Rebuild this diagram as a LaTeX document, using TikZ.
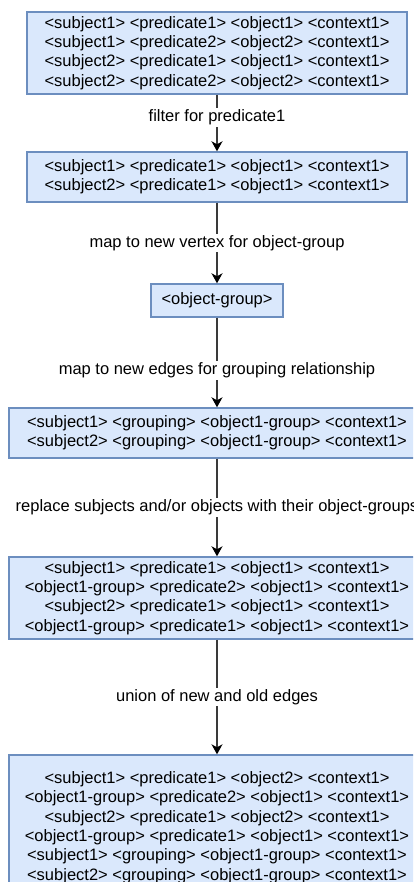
\documentclass[tikz,border=0pt]{standalone}
\usepackage{fontspec}
\setmainfont{Liberation Sans}
\usetikzlibrary{arrows.meta}
\definecolor{boxfill}{HTML}{DAE8FC}
\definecolor{boxline}{HTML}{6C8EBF}
\definecolor{flowline}{HTML}{3A3A3A}
\tikzset{
  stagebox/.style={rectangle, draw=boxline, fill=boxfill, line width=1.4pt,
    inner sep=0pt, align=center, text=black,
    font=\fontsize{16.5pt}{19.4pt}\selectfont},
  flow/.style={draw=flowline, line width=1.5pt,
    -{Stealth[length=10pt, width=11pt, inset=3pt, fill=black, color=black]}},
  steplabel/.style={fill=white, inner sep=1.5pt, text=black,
    font=\fontsize{16.5pt}{19.4pt}\selectfont}
}
\begin{document}
\begin{tikzpicture}[x=1pt, y=1pt]
  \useasboundingbox (0,0) rectangle (413,-882);
  \begin{scope}
  \clip (0,0) rectangle (413,-882);

  \node[stagebox, minimum width=380pt, minimum height=82pt] (quads) at (217,-53)
    {<subject1> <predicate1> <object1> <context1>\\
     <subject1> <predicate2> <object2> <context1>\\
     <subject2> <predicate1> <object1> <context1>\\
     <subject2> <predicate2> <object2> <context1>};

  \node[stagebox, minimum width=380pt, minimum height=50pt] (filtered) at (217,-177)
    {<subject1> <predicate1> <object1> <context1>\\
     <subject2> <predicate1> <object1> <context1>};

  \node[stagebox, minimum width=132pt, minimum height=33pt] (group) at (217,-300.5)
    {<object-group>};

  \node[stagebox, minimum width=416pt, minimum height=50pt] (grouping) at (217,-433)
    {<subject1> <grouping> <object1-group> <context1>\\
     <subject2> <grouping> <object1-group> <context1>};

  \node[stagebox, minimum width=416pt, minimum height=82pt] (replaced) at (217,-598)
    {<subject1> <predicate1> <object1> <context1>\\
     <object1-group> <predicate2> <object1> <context1>\\
     <subject2> <predicate1> <object1> <context1>\\
     <object1-group> <predicate1> <object1> <context1>};

  \node[stagebox, minimum width=416pt, minimum height=145pt] (union) at (217,-827.5)
    {<subject1> <predicate1> <object2> <context1>\\
     <object1-group> <predicate2> <object1> <context1>\\
     <subject2> <predicate1> <object2> <context1>\\
     <object1-group> <predicate1> <object1> <context1>\\
     <subject1> <grouping> <object1-group> <context1>\\
     <subject2> <grouping> <object1-group> <context1>};

  \draw[flow] (quads) -- node[steplabel, pos=0.40] {filter for predicate1} (filtered);
  \draw[flow] (filtered) -- node[steplabel, pos=0.50] {map to new vertex for object-group} (group);
  \draw[flow] (group) -- node[steplabel, pos=0.59] {map to new edges for grouping relationship} (grouping);
  \draw[flow] (grouping) -- node[steplabel, pos=0.50] {replace subjects and/or objects with their object-groups} (replaced);
  \draw[flow] (replaced) -- node[steplabel, pos=0.50] {union of new and old edges} (union);
  \end{scope}
\end{tikzpicture}
\end{document}
